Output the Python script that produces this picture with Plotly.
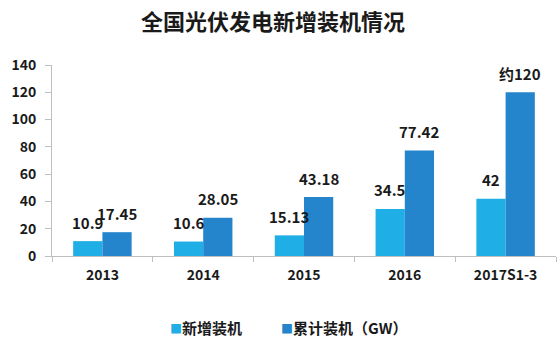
import plotly.graph_objects as go

categories = ["2013", "2014", "2015", "2016", "2017S1-3"]
new_installed = [10.9, 10.6, 15.13, 34.5, 42]
cumulative = [17.45, 28.05, 43.18, 77.42, 120]
new_labels = ["10.9", "10.6", "15.13", "34.5", "42"]
cum_labels = ["17.45", "28.05", "43.18", "77.42", "约120"]
series_names = ["新增装机", "累计装机（GW）"]
title_text = "全国光伏发电新增装机情况"

LIGHT = "#1fafe6"
DARK = "#2585cc"
FONT = "Noto Sans CJK SC"
TXT = "#1a1a1a"

fig = go.Figure()
fig.add_trace(go.Bar(x=categories, y=new_installed, name=series_names[0],
                     marker=dict(color=LIGHT, line=dict(width=0)), showlegend=False))
fig.add_trace(go.Bar(x=categories, y=cumulative, name=series_names[1],
                     marker=dict(color=DARK, line=dict(width=0)), showlegend=False))

annotations = []
for i, (v, t) in enumerate(zip(new_installed, new_labels)):
    annotations.append(dict(x=i, y=v, text=f"<b>{t}</b>", showarrow=False,
                            xshift=-14.6, yshift=19, yanchor="middle",
                            font=dict(family=FONT, size=15, color=TXT)))
for i, (v, t) in enumerate(zip(cumulative, cum_labels)):
    annotations.append(dict(x=i, y=v, text=f"<b>{t}</b>", showarrow=False,
                            xshift=14.6, yshift=19, yanchor="middle",
                            font=dict(family=FONT, size=15, color=TXT)))

# legend drawn as text
annotations.append(dict(xref="paper", yref="paper", x=(168 - 52) / 504, y=-(327 - 256) / 191,
                        xanchor="left", yanchor="middle", showarrow=False,
                        text=f"<span style='color:{LIGHT};font-size:12px'>■</span><b>{series_names[0]}</b>",
                        font=dict(family=FONT, size=15, color=TXT)))
annotations.append(dict(xref="paper", yref="paper", x=(279 - 52) / 504, y=-(327 - 256) / 191,
                        xanchor="left", yanchor="middle", showarrow=False,
                        text=f"<span style='color:{DARK};font-size:12px'>■</span><b>{series_names[1]}</b>",
                        font=dict(family=FONT, size=15, color=TXT)))

fig.update_layout(
    width=558, height=353,
    margin=dict(l=52, r=2, t=65, b=97),
    paper_bgcolor="white", plot_bgcolor="white",
    barmode="group", bargap=0.42, bargroupgap=0,
    title=dict(text=f"<b>{title_text}</b>", x=273 / 558, xanchor="center",
               y=1 - 22 / 353, yanchor="middle",
               font=dict(family=FONT, size=22, color=TXT)),
    annotations=annotations,
    xaxis=dict(type="category", range=[-0.5, len(categories) - 0.5],
               showline=True, linecolor="#bfbfbf", linewidth=1,
               ticks="outside", tickson="boundaries", ticklen=5, tickcolor="#bfbfbf",
               tickfont=dict(family=FONT, size=14, color=TXT), ticklabelstandoff=6,
               tickangle=0, showgrid=False),
    yaxis=dict(range=[0, 140], dtick=20, showline=True, linecolor="#bfbfbf", linewidth=1,
               ticks="outside", ticklen=6, tickcolor="#bfbfbf",
               tickfont=dict(family=FONT, size=14, color=TXT), ticklabelstandoff=6,
               showgrid=False, zeroline=False),
)
fig.update_xaxes(tickprefix="<b>", ticksuffix="</b>")
fig.update_yaxes(tickprefix="<b>", ticksuffix="</b>")

fig.write_html("out.html")
